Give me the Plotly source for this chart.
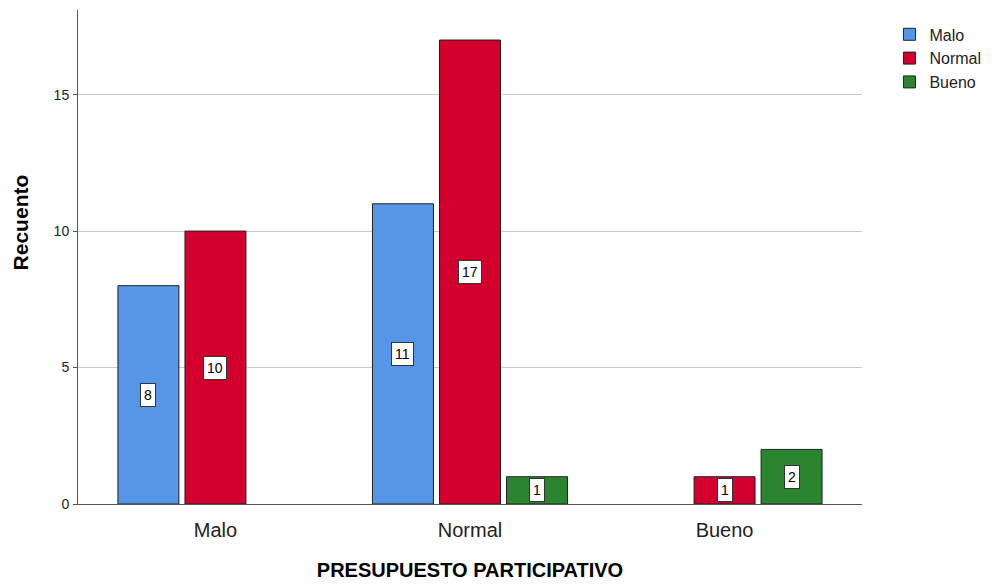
import plotly.graph_objects as go

# Data
categories = ['Malo', 'Normal', 'Bueno']
series_names = ['Malo', 'Normal', 'Bueno']
malo_vals = [8, 11, 0]
normal_vals = [10, 17, 1]
bueno_vals = [0, 1, 2]

colors = ['#5596E6', '#D3002E', '#2A852E']
x_pos = list(range(len(categories)))

bargap = 0.21
groupgap = 0.09
n_series = 3
slot = (1 - bargap) / n_series
FONT = 'Liberation Sans, Arial, sans-serif'

fig = go.Figure()

for k, (name, vals) in enumerate(zip(series_names, [malo_vals, normal_vals, bueno_vals])):
    fig.add_trace(go.Bar(
        x=x_pos,
        y=[v if v else None for v in vals],
        name=name,
        marker=dict(color=colors[k], line=dict(color='#222222', width=1)),
    ))
    # value labels in white boxes at mid-height
    offset = (k - (n_series - 1) / 2) * slot
    for i, v in enumerate(vals):
        if not v:
            continue
        fig.add_annotation(
            x=i + offset, y=v / 2, text=str(v), showarrow=False,
            font=dict(family=FONT, size=14, color='black'),
            bgcolor='white', bordercolor='#333333', borderwidth=1, borderpad=3,
        )

# y axis title sits a little above the middle of the axis
fig.add_annotation(
    xref='paper', yref='paper', x=-0.074, y=0.57,
    text='<b>Recuento</b>', textangle=-90, showarrow=False,
    xanchor='center', yanchor='middle',
    font=dict(family=FONT, size=21, color='black'),
)

# the page body adds an 8px offset, so margins are shifted to compensate
fig.update_layout(
    barmode='group',
    bargap=bargap,
    bargroupgap=groupgap,
    width=992, height=585,
    margin=dict(l=70, r=138, t=2, b=89),
    plot_bgcolor='white',
    paper_bgcolor='white',
    font=dict(family=FONT, color='#222222'),
    legend=dict(
        x=1.035, y=0.985, xanchor='left', yanchor='top',
        font=dict(size=16), tracegroupgap=0, itemwidth=30,
    ),
)

fig.update_xaxes(
    range=[-0.54, 2.54],
    tickvals=x_pos, ticktext=categories,
    tickfont=dict(size=20),
    ticklabelstandoff=8,
    showline=True, linecolor='#555555', linewidth=1,
    ticks='', showgrid=False,
    title=dict(text='<b>PRESUPUESTO PARTICIPATIVO</b>', font=dict(size=20, color='black'), standoff=22),
)
fig.update_yaxes(
    range=[0, 18.1],
    tickvals=[0, 5, 10, 15],
    tickfont=dict(size=14),
    ticklabelstandoff=1,
    showline=True, linecolor='#555555', linewidth=1,
    ticks='outside', ticklen=4, tickcolor='#555555',
    showgrid=True, gridcolor='#C8C8C8', gridwidth=1,
    zeroline=False,
)

fig.write_html("out.html")
